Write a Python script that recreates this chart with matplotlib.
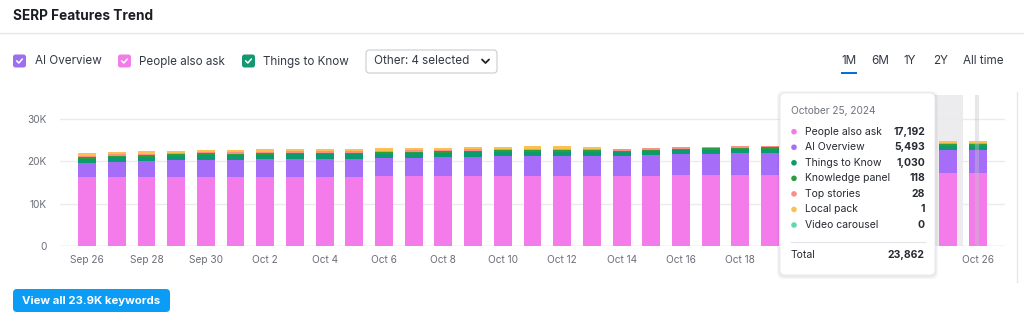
import numpy as np
import pandas as pd
import matplotlib
matplotlib.use('Agg')
import matplotlib.pyplot as plt
from matplotlib.patches import FancyBboxPatch, Rectangle, Circle
from matplotlib.ticker import FuncFormatter

plt.rcParams['font.family'] = ['Inter', 'DejaVu Sans']

# daily keyword counts per SERP feature, Sep 26 .. Oct 26 2024
days = pd.date_range('2024-09-26', '2024-10-26', freq='D')
tick_labels = [d.strftime('%b ') + str(d.day) for d in days]

people_also_ask = [16200, 16210, 16220, 16230, 16250, 16260, 16260, 16300, 16310, 16350,
                   16450, 16500, 16460, 16510, 16540, 16560, 16600, 16610, 16620, 16650,
                   16700, 16760, 16720, 16800, 16860, 16920, 16960, 17020, 17100, 17192, 17210]
ai_overview = [3300, 3590, 3780, 3970, 4150, 4140, 4240, 4300, 4290, 4250,
               4350, 4400, 4540, 4590, 4760, 4740, 4700, 4690, 4680, 4850,
               5000, 5040, 5180, 5200, 5240, 5290, 5340, 5390, 5420, 5493, 5480]
things_to_know = [1150, 1120, 1100, 1080, 1120, 1100, 1080, 1060, 1050, 1060,
                  1040, 1020, 1030, 1000, 980, 990, 1000, 980, 900, 920,
                  940, 960, 980, 1000, 1010, 1010, 1020, 1020, 1030, 1030, 1040]
knowledge_panel = [131, 128, 126, 125, 127, 124, 122, 123, 121, 120,
                   122, 119, 118, 120, 121, 119, 117, 118, 116, 117,
                   119, 118, 120, 119, 118, 117, 119, 118, 117, 118, 118]
top_stories = [42, 38, 35, 40, 36, 33, 31, 35, 37, 34,
               32, 30, 33, 29, 31, 34, 30, 28, 27, 30,
               29, 31, 28, 30, 29, 27, 28, 30, 29, 28, 27]
local_pack = [550, 560, 540, 520, 560, 540, 530, 520, 550, 530,
              520, 510, 530, 540, 520, 530, 540, 520, 0, 0,
              0, 0, 0, 0, 0, 0, 0, 0, 0, 1, 1]
video_carousel = [0] * 31

series = [
    ('People also ask', people_also_ask, '#f37bea'),
    ('AI Overview', ai_overview, '#a66df8'),
    ('Things to Know', things_to_know, '#0c9a70'),
    ('Knowledge panel', knowledge_panel, '#2e9e3c'),
    ('Top stories', top_stories, '#fb8f86'),
    ('Local pack', local_pack, '#fbc052'),
    ('Video carousel', video_carousel, '#62d9a9'),
]
hover = 29        # Oct 25
min_seg = 350     # smallest visible segment height

fig = plt.figure(figsize=(10.24, 3.26), dpi=100)
fig.patch.set_facecolor('white')

W, H = 1024, 326
ax = fig.add_axes([60 / W, (H - 246) / H, 945 / W, 151 / H])
x = np.arange(len(days))

ax.axvspan(hover - 0.48, hover + 0.48, color='#ececee', zorder=0, lw=0)

bottom = np.zeros(len(days))
for name, vals, col in series:
    v = np.array(vals, dtype=float)
    shown = np.where(v > 0, np.maximum(v, min_seg), 0)
    ax.bar(x, shown, width=0.6, bottom=bottom, color=col, lw=0, zorder=2)
    bottom += shown

ax.axvline(len(days) - 1.02, color='#c4c4c9', lw=3, alpha=0.4, zorder=4)

ax.set_xlim(-0.91, len(days) - 1 + 0.91)
ax.set_ylim(0, 30000 * 151 / 127)
ax.set_yticks([0, 10000, 20000, 30000])
ax.yaxis.set_major_formatter(FuncFormatter(lambda v, p: '0' if v == 0 else f'{int(v / 1000)}K'))
ax.set_xticks(x[::2])
ax.set_xticklabels(tick_labels[::2])
ax.tick_params(length=0, labelsize=7.3, labelcolor='#6c6e79')
ax.tick_params(axis='y', pad=9.5)
ax.tick_params(axis='x', pad=6.5)
ax.grid(axis='y', color='#ebebef', lw=1, zorder=0)
ax.set_axisbelow(True)
for s in ax.spines.values():
    s.set_visible(False)
ax.axhline(0, color='#dedee4', lw=1, zorder=1)
# labels sitting under the tooltip are not shown
for pos, lbl in zip(x[::2], ax.get_xticklabels()):
    if hover - 6 < pos < hover:
        lbl.set_visible(False)

# page chrome drawn in pixel coordinates
ui = fig.add_axes([0, 0, 1, 1])
ui.set_xlim(0, W)
ui.set_ylim(H, 0)
ui.axis('off')
ui.patch.set_alpha(0)

ui.text(13, 16, 'SERP Features Trend', fontsize=9.8, fontweight='bold', color='#1b1d24', va='center')
ui.plot([0, W], [32.5, 32.5], color='#e6e6ea', lw=1)


def checkbox(x0, yc, color):
    ui.add_patch(FancyBboxPatch((x0, yc - 6.5), 13, 13, boxstyle='round,pad=0,rounding_size=2.5',
                                fc=color, ec='none'))
    ui.plot([x0 + 3.6, x0 + 5.8, x0 + 9.4], [yc - 0.2, yc + 2.0, yc - 2.0],
            color='white', lw=1.1, solid_capstyle='round', solid_joinstyle='round')


legend_items = [(13, 35, 'AI Overview', '#9c6ff0'),
                (118, 139, 'People also ask', '#f07ee6'),
                (242, 263, 'Things to Know', '#13986f')]
for bx, tx, label, col in legend_items:
    checkbox(bx, 61, col)
    ui.text(tx, 61.5, label, fontsize=8.4, color='#333a45', va='center')

ui.add_patch(FancyBboxPatch((366, 50), 131, 23, boxstyle='round,pad=0,rounding_size=3.5',
                            fc='white', ec='#c9cbd1', lw=0.8))
ui.text(374, 61.5, 'Other: 4 selected', fontsize=8.4, color='#333a45', va='center')
ui.plot([482, 485.5, 489], [59.5, 63, 59.5], color='#222222', lw=1.3, solid_capstyle='round')

for rx, label in [(841, '1M'), (871, '6M'), (903, '1Y'), (933, '2Y'), (963, 'All time')]:
    ui.text(rx, 61.5, label, fontsize=8.4, color='#333a45', va='center')
ui.add_patch(Rectangle((841, 71.5), 16, 2.5, color='#0a6fd2', lw=0))

ui.plot([1017, 1017], [92, 282], color='#e6e6ea', lw=1)

# hover tooltip for Oct 25
for pad, a in [(3, 0.04), (1.5, 0.06)]:
    ui.add_patch(FancyBboxPatch((780 - pad, 93 - pad + 1), 155 + 2 * pad, 182 + 2 * pad,
                                boxstyle='round,pad=0,rounding_size=6', fc='#30303a', ec='none', alpha=a))
ui.add_patch(FancyBboxPatch((780, 93), 155, 182, boxstyle='round,pad=0,rounding_size=5',
                            fc='white', ec='#e8e8ec', lw=0.6))
ui.text(791, 110.5, days[hover].strftime('%B ') + f'{days[hover].day}, {days[hover].year}',
        fontsize=7.3, color='#6f7380', va='center')
row_y = 131.7
for name, vals, col in series:
    ui.add_patch(Circle((794, row_y), 2.8, color=col, lw=0))
    ui.text(805, row_y, name, fontsize=7.5, color='#272a33', va='center')
    ui.text(925, row_y, f'{vals[hover]:,}', fontsize=7.5, color='#272a33', va='center',
            ha='right', fontweight='bold')
    row_y += 15.55
total = sum(vals[hover] for _, vals, _ in series)
ui.plot([791, 925], [241.7, 241.7], color='#e3e3e8', lw=0.8)
ui.text(791, 254.5, 'Total', fontsize=7.5, color='#272a33', va='center')
ui.text(925, 254.5, f'{total:,}', fontsize=7.5, color='#272a33', va='center', ha='right',
        fontweight='bold')

ui.add_patch(FancyBboxPatch((13, 289), 157, 23, boxstyle='round,pad=0,rounding_size=4',
                            fc='#0b9cf5', ec='none'))
ui.text(91.5, 300.5, f'View all {total / 1000:.1f}K keywords', fontsize=8.2, color='white',
        fontweight='bold', ha='center', va='center')

fig.savefig('out.png', dpi=100, facecolor='white')
